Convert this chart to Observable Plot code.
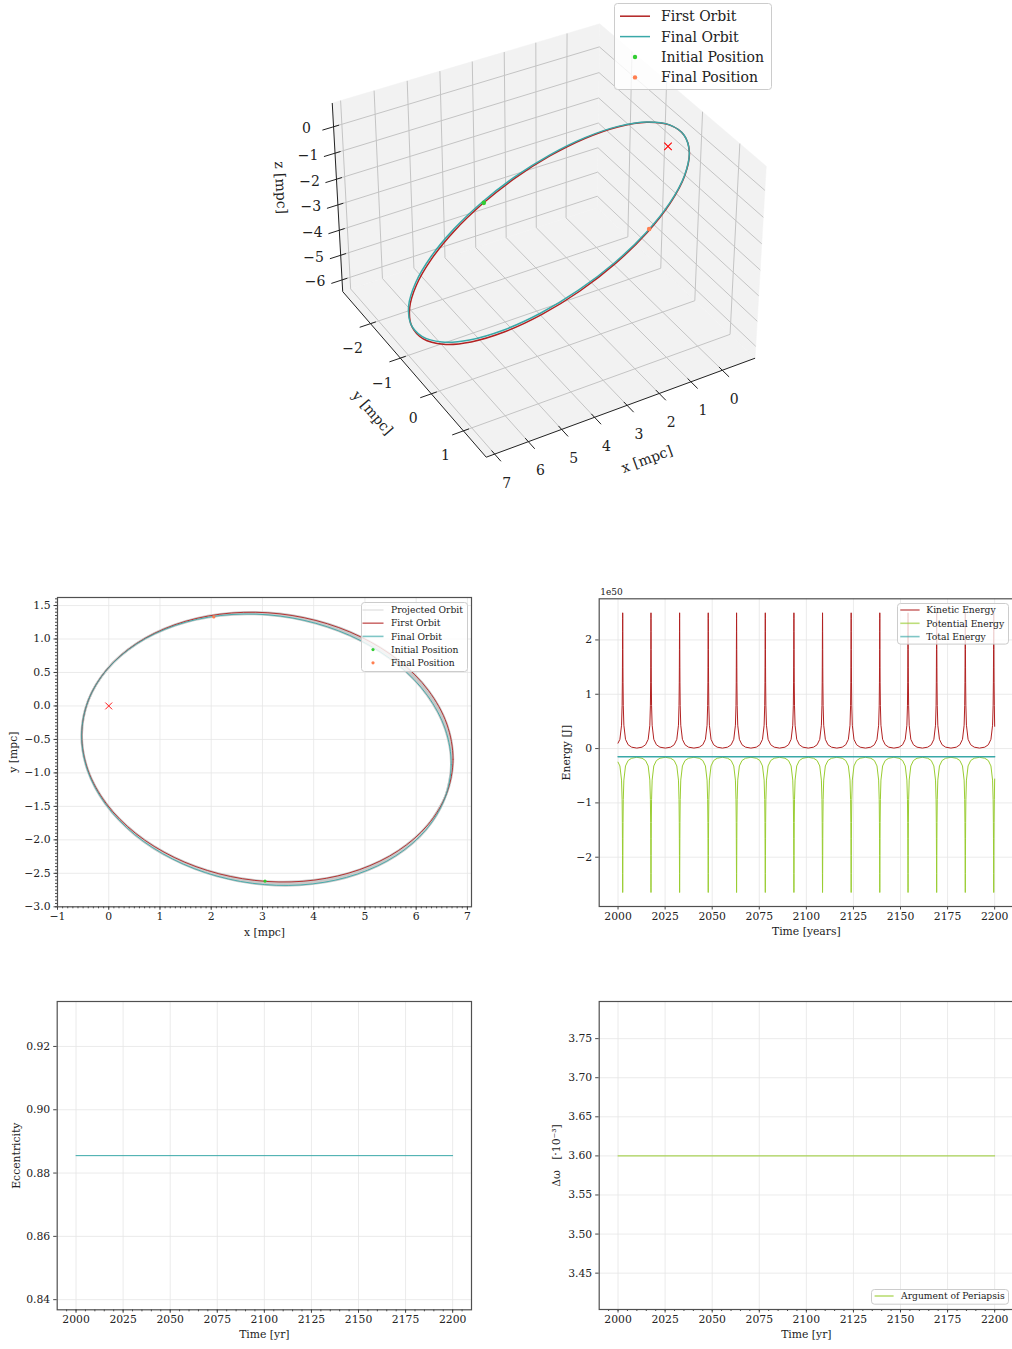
<!DOCTYPE html>
<html>
<head>
<meta charset="utf-8">
<script src="https://cdn.jsdelivr.net/npm/d3@7"></script>
<script src="https://cdn.jsdelivr.net/npm/@observablehq/plot@0.6"></script>
<style>
  html, body { margin: 0; padding: 0; background: #fff; overflow: hidden; }
  #fig { position: relative; width: 1012px; height: 1349px; overflow: hidden; background: #fff; }
  #fig > * { position: absolute; }
</style>
</head>
<body>
<div id="fig"></div>
<script>
// ======================= DATA =======================
// First orbit, sampled every 15 degrees of orbital phase (mpc)
const firstOrbitX = [6.5936, 6.7194, 6.5985, 6.2389, 5.6652, 4.9163, 4.0436, 3.1063, 2.1682, 1.2935, 0.5417, -0.0361, -0.4004, -0.5263, -0.4053, -0.0457, 0.5280, 1.2769, 2.1496, 3.0869, 4.0250, 4.8997, 5.6515, 6.2292];
const firstOrbitY = [-1.3095, -0.7963, -0.2706, 0.2314, 0.6759, 1.0324, 1.2766, 1.3919, 1.3704, 1.2136, 0.9323, 0.5453, 0.0795, -0.4337, -0.9593, -1.4614, -1.9058, -2.2623, -2.5066, -2.6218, -2.6003, -2.4436, -2.1622, -1.7753];
const firstOrbitZ = [-5.9290, -5.6573, -5.1899, -4.5586, -3.8064, -2.9846, -2.1491, -1.3570, -0.6619, -0.1117, 0.2564, 0.4172, 0.3600, 0.0884, -0.3790, -1.0103, -1.7625, -2.5844, -3.4199, -4.2120, -4.9070, -5.4572, -5.8253, -5.9861];
// Final orbit (slightly precessed)
const finalOrbitX = [6.5525, 6.6836, 6.5690, 6.2165, 5.6501, 4.9082, 4.0417, 3.1094, 2.1749, 1.3019, 0.5500, -0.0298, -0.3979, -0.5290, -0.4144, -0.0619, 0.5045, 1.2464, 2.1129, 3.0452, 3.9797, 4.8527, 5.6046, 6.1844];
const finalOrbitY = [-1.3917, -0.8778, -0.3487, 0.1596, 0.6126, 0.9792, 1.2346, 1.3612, 1.3507, 1.2034, 0.9297, 0.5480, 0.0845, -0.4294, -0.9585, -1.4668, -1.9197, -2.2864, -2.5418, -2.6684, -2.6578, -2.5106, -2.2369, -1.8552];
const finalOrbitZ = [-5.9565, -5.6883, -5.2233, -4.5929, -3.8402, -3.0163, -2.1776, -1.3811, -0.6811, -0.1253, 0.2483, 0.4144, 0.3617, 0.0936, -0.3715, -1.0019, -1.7545, -2.5785, -3.4172, -4.2137, -4.9136, -5.4695, -5.8431, -6.0091];
const centralMass = [0, 0, 0];
const initialPosition = [3.05, -2.615, -4.18];
const finalPosition = [2.05, 1.33, -0.61];

// Energy (units of 1e50 J)
const periapsisYears = [2002.48, 2017.5, 2032.7, 2047.9, 2062.95, 2078.2, 2093.4, 2108.6, 2123.8, 2139.0, 2154.0, 2169.2, 2184.4, 2199.5];
const profileOffsetYears = [0, 0.028, 0.058, 0.092, 0.133, 0.182, 0.312, 0.615, 1.487, 2.881, 4.750, 7.575];
const profileKinetic = [2.50, 2.40, 2.15, 1.82, 1.50, 1.21, 0.79, 0.43, 0.17, 0.070, 0.026, 0.009];
const profilePotential = [-2.65, -2.55, -2.30, -1.97, -1.65, -1.36, -0.94, -0.58, -0.32, -0.22, -0.178, -0.161];
const edgeYears = [2000, 2200];
const edgeKinetic = [0.10, 0.41];
const edgePotential = [-0.25, -0.56];
const totalEnergy = [-0.152, -0.152];

// Orbital elements over time
const elementYears = [2000, 2200];
const eccentricity = [0.8855, 0.8855];
const deltaOmega = [3.600, 3.600];

// Ticks / labels
const orbitXTicks = [-1, 0, 1, 2, 3, 4, 5, 6, 7];
const orbitYTicks = [-3.0, -2.5, -2.0, -1.5, -1.0, -0.5, 0.0, 0.5, 1.0, 1.5];
const yearTicks = [2000, 2025, 2050, 2075, 2100, 2125, 2150, 2175, 2200];
const energyTicks = [-2, -1, 0, 1, 2];
const eccTicks = [0.84, 0.86, 0.88, 0.90, 0.92];
const omegaTicks = [3.45, 3.50, 3.55, 3.60, 3.65, 3.70, 3.75];
const xTicks3d = [0, 1, 2, 3, 4, 5, 6, 7];
const yTicks3d = [-2, -1, 0, 1];
const zTicks3d = [0, -1, -2, -3, -4, -5, -6];
const legend3dLabels = ["First Orbit", "Final Orbit", "Initial Position", "Final Position"];
const legendOrbitLabels = ["Projected Orbit", "First Orbit", "Final Orbit", "Initial Position", "Final Position"];
const legendEnergyLabels = ["Kinetic Energy", "Potential Energy", "Total Energy"];
const legendOmegaLabels = ["Argument of Periapsis"];

// ======================= STYLE =======================
const SERIF = "'DejaVu Serif', 'Liberation Serif', serif";
const RED = "#b22222", TEAL = "#3aa8a8", YG = "#9acd32", GREEN = "#32cd32", ORANGE = "#ff7f50", BAND = "#c8c8c8", LIGHT = "#d9d9d9";
const SPINE = "#505050", GRID = "#e6e6e6", INK = "#222222";
const FS = 10.8;

const fig = document.getElementById("fig");
function put(el, left, top) { el.style.left = left + "px"; el.style.top = top + "px"; fig.appendChild(el); return el; }
const baseStyle = {fontFamily: SERIF, fontSize: FS + "px", color: INK, background: "transparent", overflow: "visible"};

// ======================= 3D VIEW =======================
const xLim = [-0.891, 7.082], yLim = [-2.871, 1.595], zLim = [-6.33, 0.74];
const view = {elev: 35, azim: 60, dist: 10, boxAspect: [4, 4, 3]};
const nb = Math.hypot(...view.boxAspect);
const box = view.boxAspect.map(b => b * 1.8294640721620434 / nb);
const el = view.elev * Math.PI / 180, az = view.azim * Math.PI / 180;
const Wv = [Math.cos(el) * Math.cos(az), Math.cos(el) * Math.sin(az), Math.sin(el)];
const Uv = [-Math.sin(az), Math.cos(az), 0];
const Vv = [-Math.sin(el) * Math.cos(az), -Math.sin(el) * Math.sin(az), Math.cos(el)];
function proj([x, y, z]) {
  const p = [
    (x - xLim[0]) / (xLim[1] - xLim[0]) * box[0] - box[0] / 2,
    (y - yLim[0]) / (yLim[1] - yLim[0]) * box[1] - box[1] / 2,
    (z - zLim[0]) / (zLim[1] - zLim[0]) * box[2] - box[2] / 2];
  const dot = a => a[0] * p[0] + a[1] * p[1] + a[2] * p[2];
  const d = view.dist - dot(Wv);
  return {X: dot(Uv) / d, Y: dot(Vv) / d};
}
const padLim = l => [l[0] - (l[1] - l[0]) / 48, l[1] + (l[1] - l[0]) / 48];
const [x0, x1] = padLim(xLim), [y0, y1] = padLim(yLim), [z0, z1] = padLim(zLim);
const xr = x1 - x0, yr = y1 - y0;

const panes = [
  {name: "floor", pts: [[x0, y0, z0], [x1, y0, z0], [x1, y1, z0], [x0, y1, z0], [x0, y0, z0]]},
  {name: "wallY", pts: [[x0, y0, z0], [x1, y0, z0], [x1, y0, z1], [x0, y0, z1], [x0, y0, z0]]},
  {name: "wallX", pts: [[x0, y0, z0], [x0, y1, z0], [x0, y1, z1], [x0, y0, z1], [x0, y0, z0]]}
];
const paneRows = panes.flatMap(p => p.pts.map(q => ({pane: p.name, ...proj(q)})));
const seg = (a, b) => { const A = proj(a), B = proj(b); return {X1: A.X, Y1: A.Y, X2: B.X, Y2: B.Y}; };
const grid3d = [
  ...xTicks3d.flatMap(t => [seg([t, y0, z0], [t, y1, z0]), seg([t, y0, z0], [t, y0, z1])]),
  ...yTicks3d.flatMap(t => [seg([x0, t, z0], [x1, t, z0]), seg([x0, t, z0], [x0, t, z1])]),
  ...zTicks3d.flatMap(t => [seg([x0, y0, t], [x1, y0, t]), seg([x0, y0, t], [x0, y1, t])])
];
const axes3d = [seg([x0, y1, z0], [x1, y1, z0]), seg([x1, y0, z0], [x1, y1, z0]), seg([x1, y0, z0], [x1, y0, z1])];
const ticks3d = [
  ...xTicks3d.map(t => seg([t, y1 - 0.02 * yr, z0], [t, y1 + 0.04 * yr, z0])),
  ...yTicks3d.map(t => seg([x1 - 0.02 * xr, t, z0], [x1 + 0.04 * xr, t, z0])),
  ...zTicks3d.map(t => seg([x1 - 0.02 * xr, y0, t], [x1 + 0.04 * xr, y0, t]))
];
const fmtInt = d3.format("d");
const xLab3d = xTicks3d.map(t => ({...proj([t, y1, z0]), text: fmtInt(t)}));
const yLab3d = yTicks3d.map(t => ({...proj([x1, t, z0]), text: fmtInt(t)}));
const zLab3d = zTicks3d.map(t => ({...proj([x1, y0, t]), text: fmtInt(t)}));
function angleOf(a, b) {
  const A = proj(a), B = proj(b);
  let ang = Math.atan2(-(B.Y - A.Y), B.X - A.X) * 180 / Math.PI;
  if (ang > 90) ang -= 180;
  if (ang <= -90) ang += 180;
  return ang;
}
const xm = (x0 + x1) / 2, ym = (y0 + y1) / 2, zm = (z0 + z1) / 2;
const axisLabels3d = [
  {...proj([xm, y1, z0]), text: "x [mpc]", rotate: angleOf([x1, y1, z0], [x0, y1, z0]), dx: 23, dy: 53},
  {...proj([x1, ym, z0]), text: "y [mpc]", rotate: angleOf([x1, y0, z0], [x1, y1, z0]), dx: -39, dy: 42},
  {...proj([x1, y0, zm]), text: "z [mpc]", rotate: angleOf([x1, y0, z0], [x1, y0, z1]), dx: -57, dy: -12}
];
const first3d = firstOrbitX.map((x, i) => proj([x, firstOrbitY[i], firstOrbitZ[i]]));
const final3d = finalOrbitX.map((x, i) => proj([x, finalOrbitY[i], finalOrbitZ[i]]));

const v3 = {left: 260, top: 0, width: 520, height: 500, scale: 2600, cx: 544.8, cy: 231.1};
const chart3d = Plot.plot({
  width: v3.width, height: v3.height, margin: 0,
  x: {domain: [(v3.left - v3.cx) / v3.scale, (v3.left + v3.width - v3.cx) / v3.scale], axis: null},
  y: {domain: [(v3.cy - (v3.top + v3.height)) / v3.scale, (v3.cy - v3.top) / v3.scale], axis: null},
  style: {...baseStyle, fontSize: "14px"},
  marks: [
    Plot.line(paneRows, {x: "X", y: "Y", z: "pane", fill: "#f2f2f2", stroke: "#f2f2f2", strokeWidth: 0.5}),
    Plot.link(grid3d, {x1: "X1", y1: "Y1", x2: "X2", y2: "Y2", stroke: "#c4c4c4", strokeWidth: 1}),
    Plot.link(axes3d, {x1: "X1", y1: "Y1", x2: "X2", y2: "Y2", stroke: INK, strokeWidth: 1}),
    Plot.link(ticks3d, {x1: "X1", y1: "Y1", x2: "X2", y2: "Y2", stroke: INK, strokeWidth: 1}),
    Plot.text(xLab3d, {x: "X", y: "Y", text: "text", dx: 12, dy: 29, fontSize: 14, fill: INK}),
    Plot.text(yLab3d, {x: "X", y: "Y", text: "text", dx: -18, dy: 25, fontSize: 14, fill: INK}),
    Plot.text(zLab3d, {x: "X", y: "Y", text: "text", dx: -27, dy: 2, fontSize: 14, fill: INK}),
    ...axisLabels3d.map(d => Plot.text([d], {x: "X", y: "Y", text: "text", rotate: d.rotate, dx: d.dx, dy: d.dy, fontSize: 14, fill: INK})),
    Plot.line(first3d, {x: "X", y: "Y", curve: "catmull-rom-closed", stroke: RED, strokeWidth: 1.5}),
    Plot.line(final3d, {x: "X", y: "Y", curve: "catmull-rom-closed", stroke: TEAL, strokeWidth: 1.5}),
    Plot.dot([proj(initialPosition)], {x: "X", y: "Y", r: 2.3, fill: GREEN}),
    Plot.dot([proj(finalPosition)], {x: "X", y: "Y", r: 2.3, fill: ORANGE}),
    Plot.dot([proj(centralMass)], {x: "X", y: "Y", symbol: "times", r: 3.5, stroke: "red", strokeWidth: 1.1})
  ]
});
put(chart3d, v3.left, v3.top);

// ======================= LEGENDS =======================
function legendBox({left, top, width, height, fontSize, row0, rowStep, sw0, sw1, textX, items, lineWidth = 1.5, lineOpacity = 1, dotR = 2.2}) {
  const svg = d3.create("svg").attr("width", width).attr("height", height).style("overflow", "visible");
  svg.append("rect").attr("x", 0.5).attr("y", 0.5).attr("width", width - 1).attr("height", height - 1).attr("rx", 3)
    .attr("fill", "white").attr("fill-opacity", 0.8).attr("stroke", "#cccccc");
  items.forEach((it, i) => {
    const y = row0 + i * rowStep;
    if (it.kind === "line") svg.append("line").attr("x1", sw0).attr("x2", sw1).attr("y1", y).attr("y2", y)
      .attr("stroke", it.color).attr("stroke-width", lineWidth).attr("stroke-opacity", lineOpacity);
    else svg.append("circle").attr("cx", (sw0 + sw1) / 2).attr("cy", y).attr("r", dotR).attr("fill", it.color);
    svg.append("text").attr("x", textX).attr("y", y).attr("dy", "0.35em").attr("font-family", SERIF)
      .attr("font-size", fontSize).attr("fill", INK).text(it.label);
  });
  return put(svg.node(), left, top);
}

// ======================= 2D ORBIT =======================
const first2d = firstOrbitX.map((x, i) => ({x, y: firstOrbitY[i]}));
const final2d = finalOrbitX.map((x, i) => ({x, y: finalOrbitY[i]}));
const bandRows = firstOrbitX.map((x, i) => ({xa: x, ya: firstOrbitY[i], xb: finalOrbitX[i], yb: finalOrbitY[i]}));
bandRows.push({...bandRows[0]});
const orbitXMinor = d3.range(-10, 71).map(d => d / 10);
const orbitYMinor = d3.range(-60, 33).map(d => d / 20);
const tickStyle = {stroke: "#333", strokeWidth: 0.9};
const yLabelOpts = {frameAnchor: "left", textAnchor: "middle", lineAnchor: "middle", rotate: -90, text: d => d};
const xLabelOpts = {frameAnchor: "bottom", textAnchor: "middle", lineAnchor: "middle", text: d => d};

const orbitChart = Plot.plot({
  width: 480, height: 360, marginLeft: 57, marginRight: 9, marginTop: 17, marginBottom: 33.7,
  x: {domain: [-1, 7.08]}, y: {domain: [-3, 1.62]},
  style: baseStyle,
  marks: [
    Plot.gridX(orbitXTicks, {stroke: GRID, strokeOpacity: 1, strokeWidth: 0.8}),
    Plot.gridY(orbitYTicks, {stroke: GRID, strokeOpacity: 1, strokeWidth: 0.8}),
    Plot.area(bandRows, {x1: "xa", y1: "ya", x2: "xb", y2: "yb", fill: BAND, curve: "catmull-rom"}),
    Plot.line(first2d, {x: "x", y: "y", curve: "catmull-rom-closed", stroke: BAND, strokeWidth: 2.4}),
    Plot.line(final2d, {x: "x", y: "y", curve: "catmull-rom-closed", stroke: BAND, strokeWidth: 2.4}),
    Plot.line(first2d, {x: "x", y: "y", curve: "catmull-rom-closed", stroke: RED, strokeWidth: 0.9}),
    Plot.line(final2d, {x: "x", y: "y", curve: "catmull-rom-closed", stroke: TEAL, strokeWidth: 0.9}),
    Plot.dot([initialPosition], {x: d => d[0], y: d => d[1], r: 1.6, fill: GREEN}),
    Plot.dot([finalPosition], {x: d => d[0], y: d => d[1], r: 1.6, fill: ORANGE}),
    Plot.dot([centralMass], {x: d => d[0], y: d => d[1], symbol: "times", r: 3.2, stroke: "red", strokeWidth: 0.9}),
    Plot.axisX(orbitXMinor, {tickSize: 2, tickFormat: () => "", label: null, ...tickStyle}),
    Plot.axisY(orbitYMinor, {tickSize: 2, tickFormat: () => "", label: null, ...tickStyle}),
    Plot.axisX(orbitXTicks, {tickSize: 3.5, tickPadding: 2.5, tickFormat: "d", label: null, ...tickStyle}),
    Plot.axisY(orbitYTicks, {tickSize: 3.5, tickPadding: 3.5, tickFormat: ".1f", label: null, ...tickStyle}),
    Plot.text(["x [mpc]"], {...xLabelOpts, dy: 25.4}),
    Plot.text(["y [mpc]"], {...yLabelOpts, dx: -43.7}),
    Plot.frame({stroke: SPINE, strokeWidth: 1.2})
  ]
});
put(orbitChart, 0, 580);

// ======================= ENERGY =======================
const energyRows = [];
periapsisYears.forEach(T => {
  profileOffsetYears.forEach((off, i) => {
    (off === 0 ? [1] : [-1, 1]).forEach(sg => {
      const t = T + sg * off;
      if (t > edgeYears[0] && t < edgeYears[1]) energyRows.push({t, k: profileKinetic[i], u: profilePotential[i]});
    });
  });
});
edgeYears.forEach((t, i) => energyRows.push({t, k: edgeKinetic[i], u: edgePotential[i]}));
energyRows.sort((a, b) => a.t - b.t);
const totalRows = edgeYears.map((t, i) => ({t, e: totalEnergy[i]}));

const energyChart = Plot.plot({
  width: 475, height: 360, marginLeft: 58.7, marginRight: 2, marginTop: 18.3, marginBottom: 34,
  x: {domain: [1990, 2210]}, y: {domain: [-2.9075, 2.7575]},
  style: baseStyle,
  marks: [
    Plot.gridX(yearTicks, {stroke: GRID, strokeOpacity: 1, strokeWidth: 0.8}),
    Plot.gridY(energyTicks, {stroke: GRID, strokeOpacity: 1, strokeWidth: 0.8}),
    Plot.line(energyRows, {x: "t", y: "k", stroke: RED, strokeWidth: 1}),
    Plot.line(energyRows, {x: "t", y: "u", stroke: YG, strokeWidth: 1}),
    Plot.line(totalRows, {x: "t", y: "e", stroke: TEAL, strokeWidth: 1.5}),
    Plot.axisX(yearTicks, {tickSize: 3.5, tickPadding: 2.5, tickFormat: "d", label: null, ...tickStyle}),
    Plot.axisY(energyTicks, {tickSize: 3.5, tickPadding: 3.5, tickFormat: "d", label: null, ...tickStyle}),
    Plot.text(["1e50"], {frameAnchor: "top-left", text: d => d, textAnchor: "start", lineAnchor: "middle", dx: 1, dy: -6.5, fontSize: 9}),
    Plot.text(["Time [years]"], {...xLabelOpts, dy: 25}),
    Plot.text(["Energy [J]"], {...yLabelOpts, dx: -33}),
    Plot.frame({stroke: SPINE, strokeWidth: 1.2})
  ]
});
put(energyChart, 540, 580);

// ======================= ECCENTRICITY =======================
const yearMinor = d3.range(1995, 2210, 5);
const eccRows = elementYears.map((t, i) => ({t, v: eccentricity[i]}));
const eccChart = Plot.plot({
  width: 480, height: 359, marginLeft: 56.7, marginRight: 9, marginTop: 11, marginBottom: 39.7,
  x: {domain: [1990, 2210]}, y: {domain: [0.8368, 0.9342]},
  style: baseStyle,
  marks: [
    Plot.gridX(yearTicks, {stroke: GRID, strokeOpacity: 1, strokeWidth: 0.8}),
    Plot.gridY(eccTicks, {stroke: GRID, strokeOpacity: 1, strokeWidth: 0.8}),
    Plot.line(eccRows, {x: "t", y: "v", stroke: TEAL, strokeWidth: 1}),
    Plot.axisX(yearMinor, {tickSize: 2, tickFormat: () => "", label: null, ...tickStyle}),
    Plot.axisX(yearTicks, {tickSize: 3.5, tickPadding: 2.5, tickFormat: "d", label: null, ...tickStyle}),
    Plot.axisY(eccTicks, {tickSize: 3.5, tickPadding: 3.5, tickFormat: ".2f", label: null, ...tickStyle}),
    Plot.text(["Time [yr]"], {...xLabelOpts, dy: 25}),
    Plot.text(["Eccentricity"], {...yLabelOpts, dx: -40.7}),
    Plot.frame({stroke: SPINE, strokeWidth: 1.2})
  ]
});
put(eccChart, 0, 990);

// ======================= ARGUMENT OF PERIAPSIS =======================
const omegaRows = elementYears.map((t, i) => ({t, v: deltaOmega[i]}));
const omegaChart = Plot.plot({
  width: 475, height: 359, marginLeft: 58.7, marginRight: 2, marginTop: 11, marginBottom: 40,
  x: {domain: [1990, 2210]}, y: {domain: [3.4035, 3.7975]},
  style: baseStyle,
  marks: [
    Plot.gridX(yearTicks, {stroke: GRID, strokeOpacity: 1, strokeWidth: 0.8}),
    Plot.gridY(omegaTicks, {stroke: GRID, strokeOpacity: 1, strokeWidth: 0.8}),
    Plot.line(omegaRows, {x: "t", y: "v", stroke: YG, strokeWidth: 1}),
    Plot.axisX(yearMinor, {tickSize: 2, tickFormat: () => "", label: null, ...tickStyle}),
    Plot.axisX(yearTicks, {tickSize: 3.5, tickPadding: 2.5, tickFormat: "d", label: null, ...tickStyle}),
    Plot.axisY(omegaTicks, {tickSize: 3.5, tickPadding: 3.5, tickFormat: ".2f", label: null, ...tickStyle}),
    Plot.text(["Time [yr]"], {...xLabelOpts, dy: 25}),
    Plot.text(["Δω\u00a0\u00a0\u00a0[·10⁻³]"], {...yLabelOpts, dx: -43}),
    Plot.frame({stroke: SPINE, strokeWidth: 1.2})
  ]
});
put(omegaChart, 540, 990);

// ======================= LEGEND PLACEMENT =======================
legendBox({left: 614, top: 3, width: 158, height: 87, fontSize: 14, row0: 13.2, rowStep: 20.4, sw0: 6, sw1: 36, textX: 47,
  items: [{kind: "line", color: RED}, {kind: "line", color: TEAL}, {kind: "dot", color: GREEN}, {kind: "dot", color: ORANGE}]
    .map((d, i) => ({...d, label: legend3dLabels[i]})), lineWidth: 1.5, dotR: 2.2});
legendBox({left: 360.5, top: 601.5, width: 107, height: 70, fontSize: 9.2, row0: 8, rowStep: 13.2, sw0: 1.5, sw1: 22.5, textX: 30,
  items: [{kind: "line", color: LIGHT}, {kind: "line", color: RED}, {kind: "line", color: TEAL}, {kind: "dot", color: GREEN}, {kind: "dot", color: ORANGE}]
    .map((d, i) => ({...d, label: legendOrbitLabels[i]})), lineWidth: 1.6, lineOpacity: 0.65, dotR: 1.6});
legendBox({left: 896.7, top: 602.7, width: 112, height: 41.6, fontSize: 9.2, row0: 7, rowStep: 13.3, sw0: 3.3, sw1: 22.6, textX: 29.3,
  items: [{kind: "line", color: RED}, {kind: "line", color: YG}, {kind: "line", color: TEAL}]
    .map((d, i) => ({...d, label: legendEnergyLabels[i]})), lineWidth: 1.6, lineOpacity: 0.65});
legendBox({left: 870.7, top: 1289.3, width: 138, height: 15.7, fontSize: 9.2, row0: 7, rowStep: 13.2, sw0: 3.6, sw1: 22.6, textX: 30,
  items: [{kind: "line", color: YG, label: legendOmegaLabels[0]}], lineWidth: 1.2, lineOpacity: 0.9});
</script>
</body>
</html>
